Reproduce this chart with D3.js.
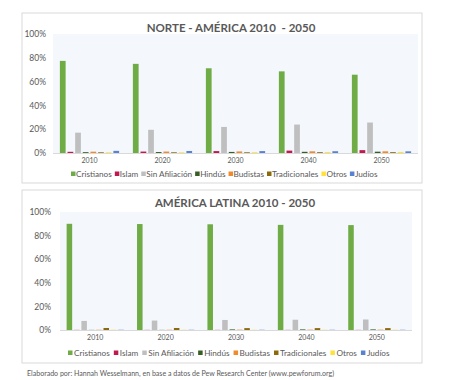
<!DOCTYPE html>
<html><head><meta charset="utf-8">
<script src="https://cdn.jsdelivr.net/npm/d3@7"></script>
<style>
body{margin:0;background:#fff;}
svg{display:block;font-family:Lato,"Open Sans",sans-serif;}
</style></head><body>
<svg id="c" width="450" height="380"></svg>
<script>
const years = ["2010","2020","2030","2040","2050"];
const series = ["Cristianos","Islam","Sin Afiliación","Hindús","Budistas","Tradicionales","Otros","Judíos"];
const colors = ["#6fac46","#c0194f","#bfbfbf","#375e23","#f08a2c","#8a6a0c","#ffe23a","#5a82d2"];
const tickLabels = ["0%","20%","40%","60%","80%","100%"];
const tickValues = [0,20,40,60,80,100];

// Norte América (% by year, one array per series)
const naCristianos   = [77.4, 74.9, 71.2, 68.6, 65.8];
const naIslam        = [1.0, 1.2, 1.6, 2.0, 2.4];
const naSinAfil      = [17.1, 19.5, 21.9, 23.9, 25.6];
const naHindus       = [0.7, 0.8, 0.9, 1.0, 1.1];
const naBudistas     = [1.1, 1.2, 1.3, 1.4, 1.4];
const naTradicionales= [0.6, 0.6, 0.6, 0.7, 0.7];
const naOtros        = [0.6, 0.6, 0.7, 0.8, 0.9];
const naJudios       = [1.8, 1.7, 1.6, 1.5, 1.4];

// América Latina
const laCristianos   = [90.0, 89.8, 89.6, 89.1, 88.9];
const laIslam        = [0.1, 0.1, 0.1, 0.1, 0.1];
const laSinAfil      = [7.7, 8.0, 8.5, 8.7, 8.9];
const laHindus       = [0.1, 0.1, 0.5, 0.5, 0.5];
const laBudistas     = [0.2, 0.2, 0.3, 0.3, 0.3];
const laTradicionales= [1.7, 1.7, 1.6, 1.6, 1.6];
const laOtros        = [0.2, 0.2, 0.2, 0.2, 0.2];
const laJudios       = [0.2, 0.2, 0.2, 0.2, 0.2];

const naData = [naCristianos,naIslam,naSinAfil,naHindus,naBudistas,naTradicionales,naOtros,naJudios];
const laData = [laCristianos,laIslam,laSinAfil,laHindus,laBudistas,laTradicionales,laOtros,laJudios];

const svg = d3.select("#c");

function drawChart(cfg){
  const g = svg.append("g");
  g.append("rect").attr("x",cfg.box[0]).attr("y",cfg.box[1])
    .attr("width",cfg.box[2]-cfg.box[0]).attr("height",cfg.box[3]-cfg.box[1])
    .attr("fill","#fff").attr("stroke","#d9d9d9").attr("stroke-width",1);
  const [x0,x1r,yTop,yBot] = cfg.plot;
  g.append("rect").attr("x",x0).attr("y",yTop).attr("width",x1r-x0).attr("height",yBot-yTop)
    .attr("fill","#f4f7fb");
  const x = d3.scaleBand().domain(years).range([x0,x1r]).padding(0);
  const xs = d3.scaleBand().domain(series).range([0,x.bandwidth()]).paddingInner(0.25).paddingOuter(0.9);
  const y = d3.scaleLinear().domain([0,100]).range([yBot,yTop]);

  g.append("text").attr("x",cfg.titleX).attr("y",cfg.titleY).attr("text-anchor","middle")
    .style("white-space","pre")
    .attr("font-size",11.5).attr("font-weight",700).attr("fill","#595959").text(cfg.title);

  const ya = d3.axisLeft(y).tickValues(tickValues).tickFormat((d,i)=>tickLabels[i]).tickSize(0).tickPadding(0);
  const yg = g.append("g").attr("transform",`translate(${cfg.yLabelX},0)`).call(ya);
  yg.select(".domain").remove();
  yg.selectAll("text").attr("font-size",8.5).attr("fill","#595959").attr("font-family","Lato,sans-serif");

  series.forEach((s,si)=>{
    g.append("g").selectAll("rect").data(cfg.data[si]).join("rect")
      .attr("x",(d,i)=>x(years[i])+xs(s)).attr("width",xs.bandwidth())
      .attr("y",d=>y(d)).attr("height",d=>yBot-y(d)).attr("fill",colors[si]);
  });
  g.append("line").attr("x1",x0).attr("x2",x1r).attr("y1",yBot+0.5).attr("y2",yBot+0.5)
    .attr("stroke","#d9d9d9").attr("stroke-width",1);

  const xa = d3.axisBottom(x).tickSize(0).tickPadding(0);
  const xg = g.append("g").attr("transform",`translate(0,${cfg.yearY})`).call(xa);
  xg.select(".domain").remove();
  xg.selectAll("text").attr("font-size",7).attr("fill","#595959").attr("font-family","Lato,sans-serif").attr("dy","0.32em");

  // legend
  const lg = g.append("g");
  let cx = cfg.legendX;
  series.forEach((s,si)=>{
    const it = lg.append("g");
    it.append("rect").attr("x",cx).attr("y",cfg.legendY-2.5).attr("width",4.5).attr("height",4.5).attr("fill",colors[si]);
    const t = it.append("text").attr("x",cx+cfg.legendTxtOff).attr("y",cfg.legendY).attr("dy","0.35em")
      .attr("font-size",cfg.legendFs).attr("fill","#595959").text(s);
    cx += cfg.legendTxtOff + t.node().getComputedTextLength() + cfg.legendGap;
  });
}

drawChart({box:[22,13,422,183], plot:[53,418,34,153], title:"NORTE - AMÉRICA 2010  - 2050",
  titleX:231, titleY:32, yLabelX:46, yearY:161, legendX:71, legendY:174, legendTxtOff:5, legendGap:3, legendFs:8.2, data:naData});
drawChart({box:[22,190,422,363], plot:[60,412,212,330], title:"AMÉRICA LATINA 2010 - 2050",
  titleX:235, titleY:207, yLabelX:51, yearY:338, legendX:68, legendY:353, legendTxtOff:6, legendGap:4, legendFs:8.2, data:laData});

svg.append("text").attr("x",27).attr("y",376).attr("font-size",7.05).attr("fill","#595959")
  .text("Elaborado por: Hannah Wesselmann, en base a datos de Pew Research Center (www.pewforum.org)");
</script>
</body></html>
